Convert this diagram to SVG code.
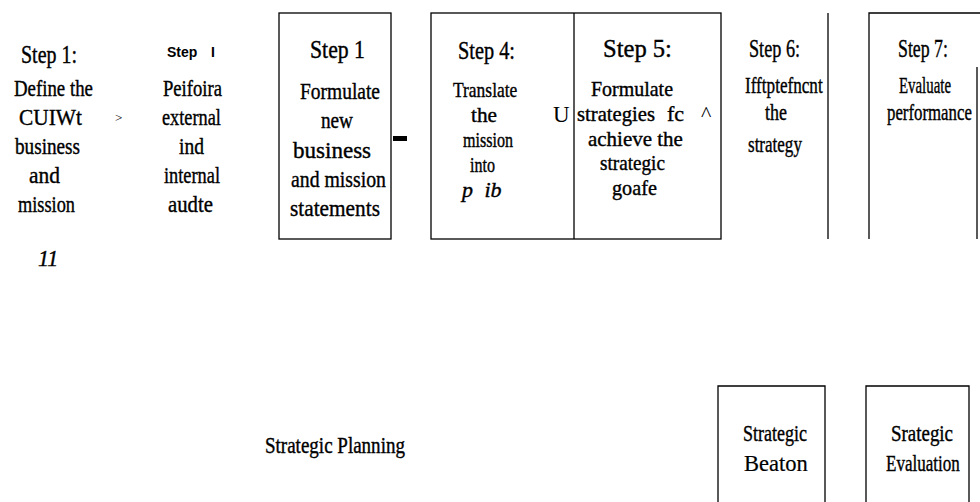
<svg xmlns="http://www.w3.org/2000/svg" width="980" height="502" viewBox="0 0 980 502">
<style>
.t{font-family:"Liberation Serif","Times New Roman",serif;font-size:24px;fill:#000;stroke:#000;stroke-width:0.4}
.h{font-size:26px}
.s{font-size:22px}
.i{font-style:italic}
.a{font-family:"Liberation Sans",Arial,sans-serif;font-size:14px;font-weight:bold;fill:#000}
.ln{fill:none;stroke:#000;stroke-width:1.3}
</style>
<rect width="980" height="502" fill="#fff"/>
<g id="step1-define">
<text class="t h" transform="translate(21 63) scale(0.768 1)">Step 1:</text>
<text class="t" transform="translate(14 96) scale(0.785 1)">Define the</text>
<text class="t" transform="translate(19 125) scale(0.891 1)">CUIWt</text>
<text class="t" transform="translate(15 154) scale(0.8 1)">business</text>
<text class="t" transform="translate(29 183) scale(0.894 1)">and</text>
<text class="t" transform="translate(18 212) scale(0.763 1)">mission</text>
<text class="t i" transform="translate(38 266) scale(0.917 1)">11</text>
</g>
<g id="step2-audit">
<text class="a" x="167" y="57">Step</text>
<text class="a" x="211" y="57">I</text>
<text class="t" transform="translate(163 96) scale(0.776 1)">Peifoira</text>
<text class="t" transform="translate(162 125) scale(0.763 1)">external</text>
<text class="t" transform="translate(179 154) scale(0.815 1)">ind</text>
<text class="t" transform="translate(164 183) scale(0.764 1)">internal</text>
<text class="t" transform="translate(168 212) scale(0.866 1)">audte</text>
</g>
<g id="step3-formulate">
<rect class="ln" x="279" y="13" width="112" height="226"/>
<text class="t h" transform="translate(310 58) scale(0.837 1)">Step 1</text>
<text class="t" transform="translate(300 99) scale(0.811 1)">Formulate</text>
<text class="t" transform="translate(321 128) scale(0.8 1)">new</text>
<text class="t" transform="translate(293 158) scale(0.96 1)">business</text>
<text class="t" transform="translate(291 187) scale(0.824 1)">and mission</text>
<text class="t" transform="translate(290 216) scale(0.888 1)">statements</text>
</g>
<g id="step4-translate">
<rect class="ln" x="431" y="13" width="290" height="226"/>
<text class="t h" transform="translate(458 59) scale(0.781 1)">Step 4:</text>
<text class="t s" transform="translate(453 97) scale(0.794 1)">Translate</text>
<text class="t s" transform="translate(471 122) scale(0.967 1)">the</text>
<text class="t s" transform="translate(463 147) scale(0.73 1)">mission</text>
<text class="t s" transform="translate(470 172) scale(0.73 1)">into</text>
<text class="t s i" x="462" y="197" style="word-spacing:6px">p ib</text>
</g>
<g id="step5-strategies">
<line class="ln" x1="574" y1="13" x2="574" y2="239"/>
<text class="t h" transform="translate(603 57) scale(0.945 1)">Step 5:</text>
<text class="t s" transform="translate(591 96) scale(0.907 1)">Formulate</text>
<text class="t s" transform="translate(577 121) scale(0.939 1)">strategies</text>
<text class="t s" x="667" y="121">fc</text>
<text class="t s" x="701" y="121" style="stroke-width:0">^</text>
<text class="t s" transform="translate(588 146) scale(0.954 1)">achieve the</text>
<text class="t s" transform="translate(600 170) scale(0.872 1)">strategic</text>
<text class="t s" transform="translate(612 195) scale(0.92 1)">goafe</text>
</g>
<g id="step6-implement">
<line class="ln" x1="828" y1="13" x2="828" y2="239"/>
<text class="t h" transform="translate(749 57) scale(0.7 1)">Step 6:</text>
<text class="t" transform="translate(745 93) scale(0.714 1)">Ifftptefncnt</text>
<text class="t" transform="translate(765 120) scale(0.75 1)">the</text>
<text class="t" transform="translate(748 152) scale(0.71 1)">strategy</text>
</g>
<g id="step7-evaluate">
<polyline class="ln" points="869,239 869,13 980,13"/>
<line class="ln" x1="977" y1="67" x2="977" y2="239"/>
<text class="t h" transform="translate(898 57) scale(0.685 1)">Step 7:</text>
<text class="t" transform="translate(899 93) scale(0.62 1)">Evaluate</text>
<text class="t" transform="translate(887 120) scale(0.7 1)">performance</text>
</g>
<g id="strategic-planning">
<text class="t" style="font-size:23px" transform="translate(265 453) scale(0.827 1)">Strategic Planning</text>
</g>
<g id="strategic-beaton">
<polyline class="ln" points="718,502 718,386 825,386 825,502"/>
<text class="t" transform="translate(743 441) scale(0.75 1)">Strategic</text>
<text class="t" style="font-size:23px;stroke-width:0.2" transform="translate(744 471) scale(0.98 1)">Beaton</text>
</g>
<g id="strategic-evaluation">
<polyline class="ln" points="866,502 866,386 969,386 969,502"/>
<text class="t" transform="translate(891 441) scale(0.789 1)">Srategic</text>
<text class="t" transform="translate(886 471) scale(0.71 1)">Evaluation</text>
</g>
<g id="connectors">
<rect x="393" y="136" width="14" height="5" fill="#000"/>
<text class="t" x="115" y="122" style="font-size:13px;stroke-width:0">&gt;</text>
<text class="t" x="553" y="122" style="font-size:23px;stroke-width:0">U</text>
</g>
</svg>
